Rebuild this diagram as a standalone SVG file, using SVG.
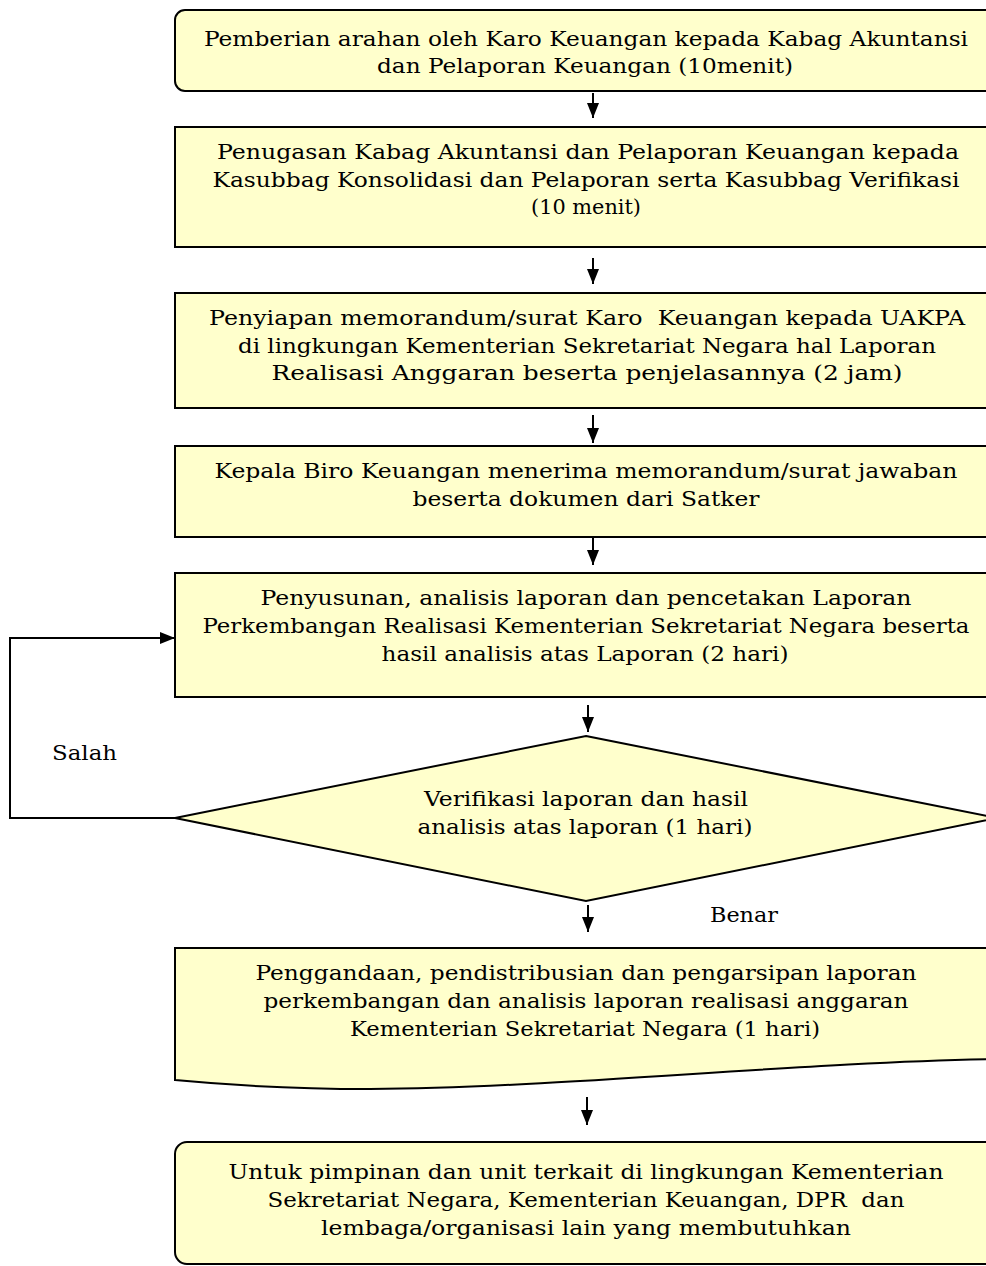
<svg xmlns="http://www.w3.org/2000/svg" width="986" height="1266" viewBox="0 0 986 1266">
<defs>
<marker id="ah" viewBox="0 0 15 12" refX="15" refY="6" markerWidth="15" markerHeight="12" markerUnits="userSpaceOnUse" orient="auto">
<path d="M0,0 L15,6 L0,12 z" fill="#000"/>
</marker>
<style>
.n{fill:#FFFFCC;stroke:#000;stroke-width:2}
.t{font-family:"DejaVu Serif","Liberation Serif",serif;font-size:20px;fill:#000;text-anchor:middle;white-space:pre}
.l{font-family:"DejaVu Serif","Liberation Serif",serif;font-size:20px;fill:#000}
.c{fill:none;stroke:#000;stroke-width:2;marker-end:url(#ah)}
</style>
</defs>
<rect width="986" height="1266" fill="#fff"/>
<g id="n1">
<rect class="n" x="175" y="10" width="822" height="81" rx="10"/>
<text class="t" x="586" y="46" textLength="764" lengthAdjust="spacingAndGlyphs">Pemberian arahan oleh Karo Keuangan kepada Kabag Akuntansi</text>
<text class="t" x="585" y="73" textLength="416" lengthAdjust="spacingAndGlyphs">dan Pelaporan Keuangan (10menit)</text>
</g>
<g id="n2">
<rect class="n" x="175" y="127" width="822" height="120"/>
<text class="t" x="588" y="159" textLength="742" lengthAdjust="spacingAndGlyphs">Penugasan Kabag Akuntansi dan Pelaporan Keuangan kepada</text>
<text class="t" x="586" y="187" textLength="747" lengthAdjust="spacingAndGlyphs">Kasubbag Konsolidasi dan Pelaporan serta Kasubbag Verifikasi</text>
<text class="t" x="586" y="214" textLength="110" lengthAdjust="spacingAndGlyphs">(10 menit)</text>
</g>
<g id="n3">
<rect class="n" x="175" y="293" width="822" height="115"/>
<text class="t" x="587" y="325" textLength="756" lengthAdjust="spacingAndGlyphs" xml:space="preserve">Penyiapan memorandum/surat Karo  Keuangan kepada UAKPA</text>
<text class="t" x="587" y="353" textLength="698" lengthAdjust="spacingAndGlyphs">di lingkungan Kementerian Sekretariat Negara hal Laporan</text>
<text class="t" x="587" y="380" textLength="631" lengthAdjust="spacingAndGlyphs">Realisasi Anggaran beserta penjelasannya (2 jam)</text>
</g>
<g id="n4">
<rect class="n" x="175" y="446" width="822" height="91"/>
<text class="t" x="586" y="478" textLength="743" lengthAdjust="spacingAndGlyphs">Kepala Biro Keuangan menerima memorandum/surat jawaban</text>
<text class="t" x="586" y="506" textLength="347" lengthAdjust="spacingAndGlyphs">beserta dokumen dari Satker</text>
</g>
<g id="n5">
<rect class="n" x="175" y="573" width="822" height="124"/>
<text class="t" x="586" y="605" textLength="651" lengthAdjust="spacingAndGlyphs">Penyusunan, analisis laporan dan pencetakan Laporan</text>
<text class="t" x="586" y="633" textLength="767" lengthAdjust="spacingAndGlyphs">Perkembangan Realisasi Kementerian Sekretariat Negara beserta</text>
<text class="t" x="585" y="661" textLength="407" lengthAdjust="spacingAndGlyphs">hasil analisis atas Laporan (2 hari)</text>
</g>
<g id="n6">
<polygon class="n" points="586,736 997,818 586,901 175,818"/>
<text class="t" x="586" y="806" textLength="324" lengthAdjust="spacingAndGlyphs">Verifikasi laporan dan hasil</text>
<text class="t" x="585" y="834" textLength="335" lengthAdjust="spacingAndGlyphs">analisis atas laporan (1 hari)</text>
</g>
<g id="n7">
<path class="n" d="M175,948 L997,948 L997,1059 C800,1062 560,1088 370,1089 Q270,1089 175,1080 Z"/>
<text class="t" x="586" y="980" textLength="661" lengthAdjust="spacingAndGlyphs">Penggandaan, pendistribusian dan pengarsipan laporan</text>
<text class="t" x="586" y="1008" textLength="645" lengthAdjust="spacingAndGlyphs">perkembangan dan analisis laporan realisasi anggaran</text>
<text class="t" x="585" y="1036" textLength="470" lengthAdjust="spacingAndGlyphs">Kementerian Sekretariat Negara (1 hari)</text>
</g>
<g id="n8">
<rect class="n" x="175" y="1142" width="822" height="122" rx="12"/>
<text class="t" x="586" y="1179" textLength="715" lengthAdjust="spacingAndGlyphs">Untuk pimpinan dan unit terkait di lingkungan Kementerian</text>
<text class="t" x="586" y="1207" textLength="637" lengthAdjust="spacingAndGlyphs" xml:space="preserve">Sekretariat Negara, Kementerian Keuangan, DPR  dan</text>
<text class="t" x="586" y="1235" textLength="530" lengthAdjust="spacingAndGlyphs">lembaga/organisasi lain yang membutuhkan</text>
</g>
<g id="connectors">
<path class="c" d="M593,93 V118"/>
<path class="c" d="M593,258 V284"/>
<path class="c" d="M593,415 V443"/>
<path class="c" d="M593,538 V565"/>
<path class="c" d="M588,705 V732"/>
<path class="c" d="M588,905 V932"/>
<path class="c" d="M587,1097 V1125"/>
<path class="c" d="M175,818 H10 V638 H175"/>
<text class="l" x="52" y="760" textLength="65" lengthAdjust="spacingAndGlyphs">Salah</text>
<text class="l" x="710" y="922" textLength="68" lengthAdjust="spacingAndGlyphs">Benar</text>
</g>
</svg>
